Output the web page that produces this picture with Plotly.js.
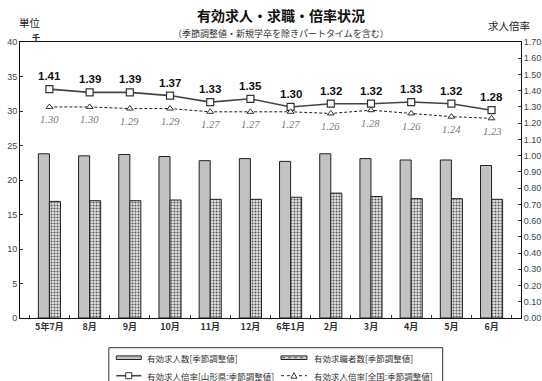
<!DOCTYPE html>
<html>
<head>
<meta charset="utf-8">
<script src="https://cdn.plot.ly/plotly-3.0.1.min.js"></script>
<style>
  html, body { margin: 0; padding: 0; background: #fff; }
  #chart { width: 542px; height: 381px; }
</style>
</head>
<body>
<div id="chart"></div>
<script>
// Months (category axis)
const months = ['5年7月', '8月', '9月', '10月', '11月', '12月', '6年1月', '2月', '3月', '4月', '5月', '6月'];
// Job offers / job seekers, seasonally adjusted (thousands)
const jobOffers = [23.8, 23.5, 23.7, 23.4, 22.8, 23.1, 22.7, 23.8, 23.1, 22.9, 22.9, 22.1];
const jobSeekers = [16.9, 17.0, 17.0, 17.1, 17.2, 17.2, 17.5, 18.1, 17.6, 17.3, 17.3, 17.2];
// Job openings-to-applicants ratio
const ratioYamagata = [1.41, 1.39, 1.39, 1.37, 1.33, 1.35, 1.30, 1.32, 1.32, 1.33, 1.32, 1.28];
const ratioNational = [1.30, 1.30, 1.29, 1.29, 1.27, 1.27, 1.27, 1.26, 1.28, 1.26, 1.24, 1.23];
// Series names
const seriesNames = ['有効求人数[季節調整値]', '有効求職者数[季節調整値]', '有効求人倍率[山形県:季節調整値]', '有効求人倍率[全国:季節調整値]'];

const JP = '"Noto Sans CJK JP", "Noto Sans", sans-serif';
const NUM = '"Liberation Sans", Arial, sans-serif';

// plot area in pixels (margins below) and helpers to place things in paper units
const PL = 19.5, PW = 502, PB = 318.3, PH = 276;
const fx = px => (px - PL) / PW;
const fy = py => (PB - py) / PH;

const traces = [
  {
    type: 'bar', name: seriesNames[0],
    x: months, y: jobOffers,
    marker: { color: '#c2c2c2', line: { color: '#222', width: 1 } },
    hoverinfo: 'skip', showlegend: false
  },
  {
    type: 'bar', name: seriesNames[1],
    x: months, y: jobSeekers,
    marker: {
      color: '#d9d9d9', line: { color: '#222', width: 1 },
      pattern: { shape: '.', fgcolor: '#555', bgcolor: '#e0e0e0', size: 3, solidity: 0.35 }
    },
    hoverinfo: 'skip', showlegend: false
  },
  {
    type: 'scatter', mode: 'lines+markers', name: seriesNames[2],
    x: months, y: ratioYamagata, yaxis: 'y2',
    line: { color: '#444', width: 1.6 },
    marker: { symbol: 'square', size: 7, color: '#fff', line: { color: '#333', width: 1.2 } },
    hoverinfo: 'skip', showlegend: false
  },
  {
    type: 'scatter', mode: 'lines+markers', name: seriesNames[3],
    x: months, y: ratioNational, yaxis: 'y2',
    line: { color: '#222', width: 1, dash: '3px,2px' },
    marker: { symbol: 'triangle-up', size: 6, color: '#fff', line: { color: '#333', width: 1 } },
    hoverinfo: 'skip', showlegend: false
  }
];

// value labels for the two ratio lines
const labels = [];
months.forEach((m, i) => {
  labels.push({
    x: m, y: ratioYamagata[i], xref: 'x', yref: 'y2',
    text: ratioYamagata[i].toFixed(2), showarrow: false,
    yanchor: 'middle', yshift: 13,
    font: { family: '"Liberation Sans Narrow", ' + NUM, size: 11.5, color: '#111', weight: 'bold' }
  });
  labels.push({
    x: m, y: ratioNational[i], xref: 'x', yref: 'y2',
    text: '<i>' + ratioNational[i].toFixed(2) + '</i>', showarrow: false,
    yanchor: 'middle', yshift: -13,
    font: { family: '"Liberation Serif", "DejaVu Serif", serif', size: 10.5, color: '#777' }
  });
});

const headings = [
  { text: '<b>有効求人・求職・倍率状況</b>', x: 0.521, y: 1.097, size: 14, color: '#111' },
  { text: '（季節調整値・新規学卒を除きパートタイムを含む）', x: 0.521, y: 1.030, size: 9, color: '#333' },
  { text: '単位', x: 0.019, y: 1.072, size: 10.5, color: '#222' },
  { text: '<b>千</b>', x: 0.031, y: 1.016, size: 8, color: '#222' },
  { text: '求人倍率', x: 0.977, y: 1.059, size: 10.5, color: '#222' }
].map(h => ({
  text: h.text, x: h.x, y: h.y, xref: 'paper', yref: 'paper',
  xanchor: 'center', yanchor: 'middle', showarrow: false,
  font: { family: JP, size: h.size, color: h.color }
}));

// legend: frame, keys and names below the plot
const legendRows = [358, 376];
const legendCols = [{ key0: 116, key1: 141, text: 145 }, { key0: 281, key1: 307, text: 312 }];
const legendEntries = [
  { row: 0, col: 0, kind: 'bar', fill: '#c2c2c2', dash: 'solid' },
  { row: 0, col: 1, kind: 'bar', fill: '#cfcfcf', dash: 'dot' },
  { row: 1, col: 0, kind: 'square' },
  { row: 1, col: 1, kind: 'triangle' }
];
const legendShapes = [{
  type: 'rect', xref: 'paper', yref: 'paper',
  x0: fx(108.5), x1: fx(443), y0: fy(348), y1: fy(400),
  line: { color: '#333', width: 1 }, fillcolor: 'rgba(0,0,0,0)'
}];
const legendTexts = [];
legendEntries.forEach((e, i) => {
  const c = legendCols[e.col], y = legendRows[e.row];
  const mid = (c.key0 + c.key1) / 2;
  if (e.kind === 'bar') {
    legendShapes.push({
      type: 'rect', xref: 'paper', yref: 'paper',
      x0: fx(c.key0), x1: fx(c.key1), y0: fy(y - 1.8), y1: fy(y + 1.8),
      line: { color: '#222', width: 1 }, fillcolor: e.fill
    });
    if (e.dash === 'dot') {
      // speckled centre line to hint at the stippled fill
      legendShapes.push({
        type: 'line', xref: 'paper', yref: 'paper',
        x0: fx(c.key0 + 1), x1: fx(c.key1 - 1), y0: fy(y), y1: fy(y),
        line: { color: '#666', width: 1, dash: 'dot' }
      });
    }
  } else {
    const tr = traces[i];
    legendShapes.push({
      type: 'line', xref: 'paper', yref: 'paper',
      x0: fx(c.key0), x1: fx(c.key1), y0: fy(y), y1: fy(y),
      line: { color: tr.line.color, width: tr.line.width, dash: e.kind === 'triangle' ? 'dot' : 'solid' }
    });
    if (e.kind === 'square') {
      legendShapes.push({
        type: 'rect', xref: 'paper', yref: 'paper',
        x0: fx(mid - 3), x1: fx(mid + 3), y0: fy(y - 3), y1: fy(y + 3),
        line: { color: '#333', width: 1 }, fillcolor: '#fff'
      });
    } else {
      legendShapes.push({
        type: 'path', xref: 'paper', yref: 'paper',
        path: `M ${fx(mid - 3)} ${fy(y + 2.5)} L ${fx(mid + 3)} ${fy(y + 2.5)} L ${fx(mid)} ${fy(y - 3)} Z`,
        line: { color: '#333', width: 1 }, fillcolor: '#fff'
      });
    }
  }
  legendTexts.push({
    text: seriesNames[i], xref: 'paper', yref: 'paper',
    x: fx(c.text), y: fy(y), xanchor: 'left', yanchor: 'middle', showarrow: false,
    font: { family: JP, size: 8.5, color: '#333' }
  });
});

const layout = {
  width: 542, height: 381,
  margin: { l: PL, r: 542 - PL - PW, t: PB - PH, b: 381 - PB, pad: 0, autoexpand: false },
  paper_bgcolor: '#fff', plot_bgcolor: '#fff',
  font: { family: JP, size: 9, color: '#333' },
  barmode: 'group', bargap: 0.45, bargroupgap: 0,
  showlegend: false,
  xaxis: {
    type: 'category', showline: true, linecolor: '#111', linewidth: 1, mirror: true,
    ticks: 'inside', tickson: 'boundaries', ticklen: 3, tickcolor: '#333',
    tickfont: { family: JP, size: 9, color: '#333', weight: 'bold' },
    showgrid: false, zeroline: false, fixedrange: true, automargin: false
  },
  yaxis: {
    range: [0, 40], dtick: 5, showline: true, linecolor: '#111', linewidth: 1, mirror: true,
    ticks: 'inside', ticklen: 3, tickcolor: '#333',
    tickfont: { family: NUM, size: 9, color: '#444' },
    showgrid: false, zeroline: false, fixedrange: true, automargin: false
  },
  yaxis2: {
    overlaying: 'y', side: 'right', range: [0, 1.7], dtick: 0.1, tickformat: '.2f',
    showline: true, linecolor: '#111', linewidth: 1,
    ticks: 'inside', ticklen: 3, tickcolor: '#333',
    tickfont: { family: NUM, size: 9, color: '#444' },
    showgrid: false, zeroline: false, fixedrange: true, automargin: false
  },
  shapes: legendShapes,
  annotations: labels.concat(headings, legendTexts)
};

Plotly.newPlot('chart', traces, layout, { staticPlot: true, displayModeBar: false });
</script>
</body>
</html>
